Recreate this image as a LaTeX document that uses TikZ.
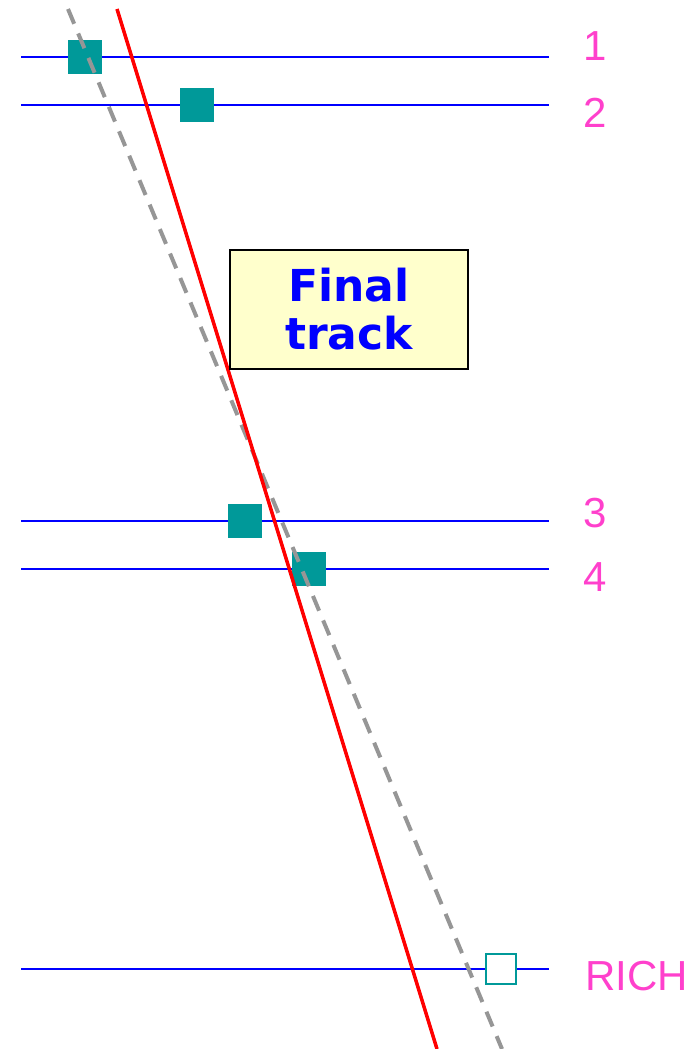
\documentclass[tikz,border=0pt]{standalone}
\usepackage{fontspec}
\setmainfont{Liberation Sans}
\newfontfamily\boxfont{DejaVu Sans}
\definecolor{hitteal}{RGB}{0,153,153}
\definecolor{labelpink}{RGB}{255,64,204}
\definecolor{boxyellow}{RGB}{255,255,204}
\definecolor{seedgray}{RGB}{150,150,150}
\begin{document}
\begin{tikzpicture}[x=1pt,y=-1pt,
    plane/.style={blue,line width=2pt},
    hit/.style={fill=hitteal,minimum size=34pt,inner sep=0pt},
    richhit/.style={draw=hitteal,fill=white,line width=2pt,minimum size=30pt,inner sep=0pt},
    seedtrack/.style={seedgray,line width=4pt,dash pattern=on 16pt off 10.5pt},
    fittrack/.style={red,line width=3.5pt},
    planelabel/.style={text=labelpink,font=\fontsize{42}{42}\selectfont,anchor=base,inner sep=0pt},
    titlebox/.style={draw=black,line width=2pt,fill=boxyellow,minimum width=238pt,minimum height=119pt,
      text=blue,align=center,font=\boxfont\bfseries\fontsize{44}{48}\selectfont}]
  \useasboundingbox (0,0) rectangle (700,1049);
  % detector planes
  \foreach \n/\y in {1/57,2/105,3/521,4/569,rich/969}{
    \coordinate (p\n w) at (21,\y);
    \coordinate (p\n e) at (549,\y);
    \draw[plane] (p\n w) -- (p\n e);
  }
  % hits
  \node[hit] (h1) at (85,57) {};
  \node[hit] (h2) at (197,105) {};
  \node[hit] (h3) at (245,521) {};
  \node[hit] (h4) at (309,569) {};
  \node[richhit] (hrich) at (501,968.5) {};
  % tracks
  \coordinate (seedtop) at (68,9);
  \coordinate (seedbot) at (502,1049);
  \coordinate (fittop) at (117,9);
  \coordinate (fitbot) at (437,1049);
  \draw[seedtrack] (seedtop) -- (seedbot);
  \draw[fittrack] (fittop) -- (fitbot);
  % label box
  \node[titlebox] (title) at (349,309.5) {Final\\track};
  % plane labels
  \node[planelabel] (l1) at (595,61) {1};
  \node[planelabel] (l2) at (595,127) {2};
  \node[planelabel] (l3) at (595,527) {3};
  \node[planelabel] (l4) at (595,591) {4};
  \node[planelabel,anchor=base west] (lrich) at (585,990) {RICH};
\end{tikzpicture}
\end{document}
